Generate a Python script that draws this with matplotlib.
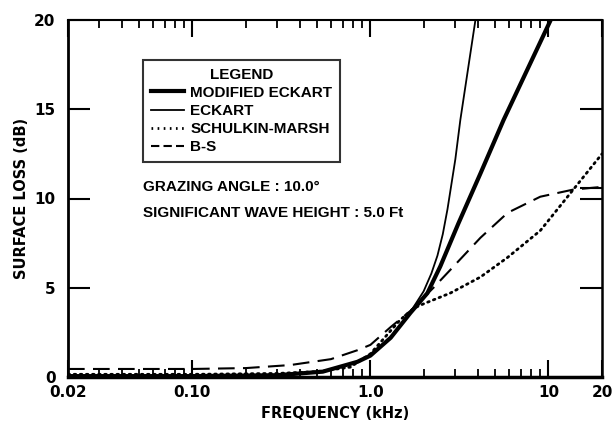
import matplotlib
matplotlib.use("Agg")
import matplotlib.pyplot as plt
from matplotlib.lines import Line2D
from matplotlib.ticker import FixedLocator, NullFormatter

# ---- data ----
mod_f = [0.02, 0.1, 0.3, 0.54, 0.845, 1.0, 1.3, 1.68, 2.09, 2.47, 3.12, 4.15, 5.6, 10.3]
mod_y = [0.05, 0.05, 0.1, 0.3, 0.85, 1.2, 2.2, 3.6, 4.7, 6.2, 8.6, 11.4, 14.4, 20.0]

eck_f = [0.02, 0.1, 0.3, 0.54, 0.845, 1.0, 1.3, 1.68, 1.99, 2.2, 2.38, 2.55, 2.71, 3.0, 3.2, 3.89]
eck_y = [0.05, 0.05, 0.1, 0.3, 0.85, 1.2, 2.2, 3.65, 4.8, 5.8, 6.8, 8.0, 9.4, 12.2, 14.4, 20.0]

sm_f = [0.02, 0.1, 0.3, 0.5, 0.77, 1.0, 1.2, 1.47, 1.75, 1.99, 2.81, 4.15, 5.9, 9.0, 13.8, 20.0]
sm_y = [0.15, 0.15, 0.2, 0.3, 0.55, 1.3, 2.2, 3.2, 3.85, 4.1, 4.7, 5.6, 6.7, 8.2, 10.5, 12.5]

bs_f = [0.02, 0.1, 0.2, 0.355, 0.6, 0.845, 1.0, 1.3, 1.7, 2.26, 2.81, 4.15, 5.9, 9.0, 13.8, 20.0]
bs_y = [0.45, 0.45, 0.5, 0.67, 1.0, 1.5, 1.8, 2.8, 3.75, 5.0, 6.0, 7.8, 9.2, 10.1, 10.5, 10.65]

x_ticks = [0.02, 0.1, 1.0, 10, 20]
x_tick_labels = ["0.02", "0.10", "1.0", "10", "20"]
y_ticks = [0, 5, 10, 15, 20]
y_tick_labels = ["0", "5", "10", "15", "20"]

legend_labels = ["MODIFIED ECKART", "ECKART", "SCHULKIN-MARSH", "B-S"]
annot1 = "GRAZING ANGLE : 10.0°"
annot2 = "SIGNIFICANT WAVE HEIGHT : 5.0 Ft"

plt.rcParams['font.family'] = ['DejaVu Sans']
LIB = ['Liberation Sans', 'DejaVu Sans']
FS = 11

fig = plt.figure(figsize=(6.13, 4.28), dpi=100)
ax = fig.add_axes([68/613, 51/428, 534/613, 357/428])

ax.plot(mod_f, mod_y, color='black', lw=3.0, solid_capstyle='butt')
ax.plot(eck_f, eck_y, color='black', lw=1.3)
ax.plot(sm_f, sm_y, color='black', lw=2.0, linestyle=(0, (0.6, 1.6)), dash_capstyle='round')
ax.plot(bs_f, bs_y, color='black', lw=1.5, linestyle=(0, (8, 4)))

ax.set_xscale('log')
ax.set_xlim(0.02, 20)
ax.set_ylim(0, 20)

ax.xaxis.set_major_locator(FixedLocator(x_ticks))
ax.set_xticklabels(x_tick_labels)
minors = [m * d for d in (0.01, 0.1, 1) for m in range(2, 10) if 0.02 < m * d < 20]
ax.xaxis.set_minor_locator(FixedLocator(minors))
ax.xaxis.set_minor_formatter(NullFormatter())
ax.set_yticks(y_ticks)
ax.set_yticklabels(y_tick_labels)
ax.yaxis.set_minor_locator(FixedLocator([10.6]))

ax.tick_params(axis='x', which='major', direction='in', length=12, width=1.5,
               top=True, bottom=True, labelsize=11, pad=6)
ax.tick_params(axis='x', which='minor', direction='in', length=6, width=1.3,
               top=True, bottom=True)
ax.tick_params(axis='y', which='major', direction='in', length=16, width=1.5,
               left=True, right=True, labelsize=11, pad=9)
ax.tick_params(axis='y', which='minor', direction='in', length=16, width=1.5,
               left=False, right=True)
for lab in ax.get_xticklabels() + ax.get_yticklabels():
    lab.set_fontweight('bold')

for side, w in (('left', 2.0), ('bottom', 2.5), ('right', 1.8), ('top', 1.5)):
    ax.spines[side].set_linewidth(w)

ax.set_xlabel("FREQUENCY (kHz)", fontsize=10.5, fontweight='bold', labelpad=4)
ax.set_ylabel("SURFACE LOSS (dB)", fontsize=10.5, fontweight='bold', labelpad=4)

handles = [
    Line2D([], [], color='black', lw=3.0),
    Line2D([], [], color='black', lw=1.3),
    Line2D([], [], color='black', lw=2.0, linestyle=(0, (0.6, 1.6))),
    Line2D([], [], color='black', lw=1.5, linestyle=(0, (4, 2))),
]
leg = ax.legend(handles, legend_labels, title="LEGEND", loc='upper left',
                bbox_to_anchor=((143 - 68) / 534, (377 - 60) / 357),
                frameon=True, fancybox=False, edgecolor='black',
                prop={'size': FS, 'weight': 'bold', 'family': LIB},
                handlelength=2.2, handletextpad=0.4, labelspacing=0.27,
                borderpad=0.5, borderaxespad=0)
leg.get_title().set_fontsize(FS)
leg.get_title().set_fontweight('bold')
leg.get_title().set_family(LIB)
leg.get_frame().set_linewidth(1.5)

ax.text((143 - 68) / 534, (377 - 187) / 357, annot1, transform=ax.transAxes,
        fontsize=FS, fontweight='bold', family=LIB, va='center', ha='left')
ax.text((143 - 68) / 534, (377 - 213) / 357, annot2, transform=ax.transAxes,
        fontsize=FS, fontweight='bold', family=LIB, va='center', ha='left')

fig.savefig("out.png", dpi=100)
